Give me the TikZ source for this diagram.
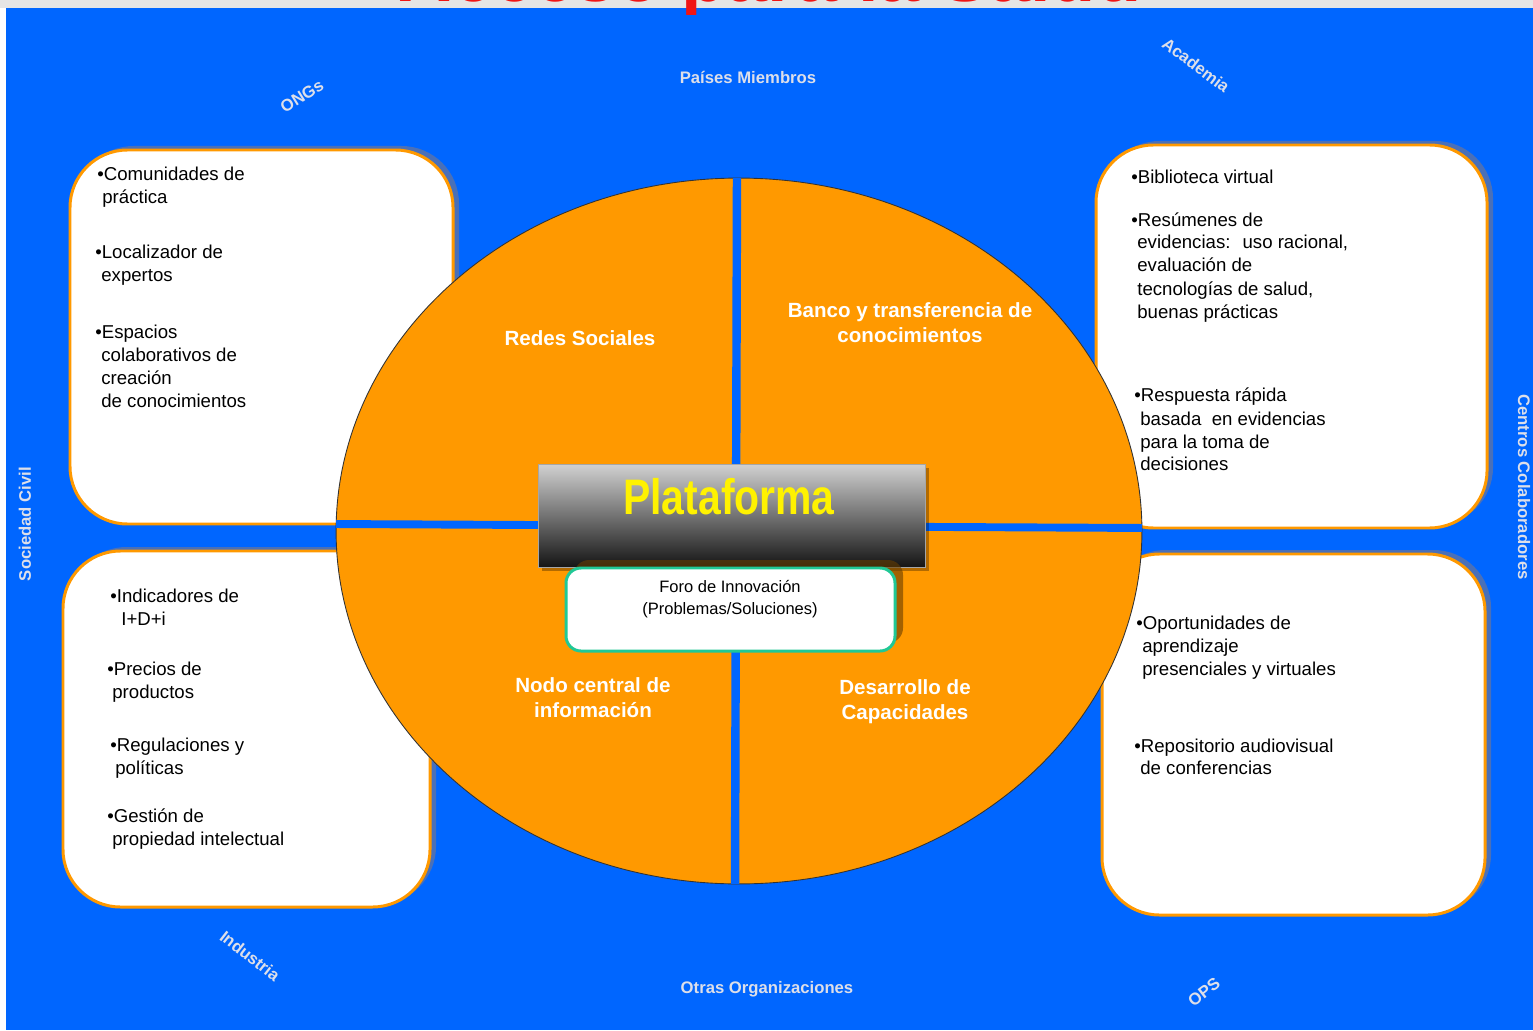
\documentclass[tikz,border=0pt]{standalone}
\usepackage{fontspec}
\setmainfont{Liberation Sans}
\definecolor{fondo}{RGB}{0,102,255}
\definecolor{naranja}{RGB}{255,153,0}
\definecolor{sombra}{RGB}{74,112,184}
\definecolor{etiqueta}{RGB}{221,223,233}
\definecolor{verdeforo}{RGB}{32,200,150}
\definecolor{rojo}{RGB}{240,20,20}

\begin{document}
\begin{tikzpicture}[x=0.02cm,y=-0.02cm,
  caja/.style={fill=white,draw=naranja,line width=1.7pt,rounded corners=1.15cm},
  sombracaja/.style={fill=sombra,rounded corners=1.15cm},
  exterior/.style={text=etiqueta,font=\fontsize{9.5}{11}\selectfont\bfseries},
  sector/.style={text=white,align=center,font=\fontsize{11.7}{14.3}\selectfont\bfseries},
  punto/.style={anchor=base west,inner sep=0pt,font=\fontsize{10.6}{13}\selectfont}]

  \useasboundingbox (0,0) rectangle (1533,1030);
  \fill[white] (0,0) rectangle (1533,1030);
  \fill[black!10] (0,0) rectangle (1533,8);
  \fill[fondo] (6,8) rectangle (1533,1030);
  \begin{scope}
    \clip (0,0) rectangle (1533,15);
    \node[text=rojo,anchor=base,font=\fontsize{42}{42}\selectfont\bfseries] (titulo) at (770,1.5) {Acceso para la Salud};
  \end{scope}

  \foreach \a/\b/\c/\d in {70/150/453/524, 63/551/430/907, 1096/145/1487/528, 1102/554/1485/915}
  {
    \fill[sombracaja] (\a+6,\b-4) rectangle (\c+6,\d-3);
    \draw[caja] (\a,\b) rectangle (\c,\d);
  }

  \filldraw[fill=naranja,draw=black!80,line width=0.5pt] (739,531) ellipse (8.06cm and 7.06cm);
  \begin{scope}
    \clip (739,531) ellipse (8.06cm and 7.06cm);
    \draw[fondo,line width=4.8pt] (737,170) -- (735,890);
    \draw[fondo,line width=4.5pt] (330,524) -- (1150,528);
  \end{scope}

  \node[sector] (redes) at (580,338) {Redes Sociales};
  \node[sector] (banco) at (910,323) {Banco y transferencia de\\conocimientos};
  \node[sector] (nodo) at (593,698) {Nodo central de\\información};
  \node[sector] (desarrollo) at (905,702) {Desarrollo de\\Capacidades};

  \fill[black,opacity=0.3] (542,468) rectangle (929,571);
  \shade[top color=black!18,bottom color=black!92,draw=black!35] (538,464) rectangle (925,567);
  \node[text=yellow,font=\fontsize{28.4}{30}\selectfont\bfseries] (plataforma) at (729,497) {\scalebox{0.82}[1]{Plataforma}};

  \fill[black!60!naranja,opacity=0.6,rounded corners=0.3cm] (574,560) rectangle (903,643);
  \draw[fill=white,draw=verdeforo,line width=1.7pt,rounded corners=0.3cm] (566,568) rectangle (895,651);
  \node[align=center,font=\fontsize{9.4}{12.5}\selectfont] (foro) at (730,599) {Foro de Innovación\\(Problemas/Soluciones)};

  \node[exterior] (paises) at (748,77) {Países Miembros};
  \node[exterior] (otras) at (767,989) {Otras Organizaciones};
  \node[exterior,rotate=32] (ongs) at (302,96) {ONGs};
  \node[exterior,rotate=-37] (academia) at (1196,65) {Academia};
  \node[exterior,rotate=-38] (industria) at (250,956) {Industria};
  \node[exterior,rotate=38] (ops) at (1204,992) {OPS};
  \node[exterior,rotate=90] (sociedad) at (25,524) {Sociedad Civil};
  \node[exterior,rotate=-90] (centros) at (1524,487) {Centros Colaboradores};

  \foreach \x/\y/\t [count=\i] in {97/181/{•Comunidades de}, 102/204/{práctica},
    95/258/{•Localizador de}, 101/281/{expertos},
    95/338/{•Espacios}, 101/361/{colaborativos de}, 101/384/{creación}, 101/407/{de conocimientos},
    110/602/{•Indicadores de}, 121/625/{I+D+i},
    107/675/{•Precios de}, 112/698/{productos},
    110/751/{•Regulaciones y}, 115/774/{políticas},
    107/822/{•Gestión de}, 112/845/{propiedad intelectual},
    1131/184/{•Biblioteca virtual},
    1131/227/{•Resúmenes de}, 1137/249/{evidencias:~ uso racional,}, 1137/272/{evaluación de},
    1137/296/{tecnologías de salud,}, 1137/318/{buenas prácticas},
    1134/401/{•Respuesta rápida}, 1140/425/{basada~ en evidencias}, 1140/448/{para la toma de}, 1140/470/{decisiones},
    1136/629/{•Oportunidades de}, 1142/652/{aprendizaje}, 1142/675/{presenciales y virtuales},
    1134/752/{•Repositorio audiovisual}, 1140/774/{de conferencias}}
  \node[punto] (linea\i) at (\x,\y) {\t};

\end{tikzpicture}
\end{document}
